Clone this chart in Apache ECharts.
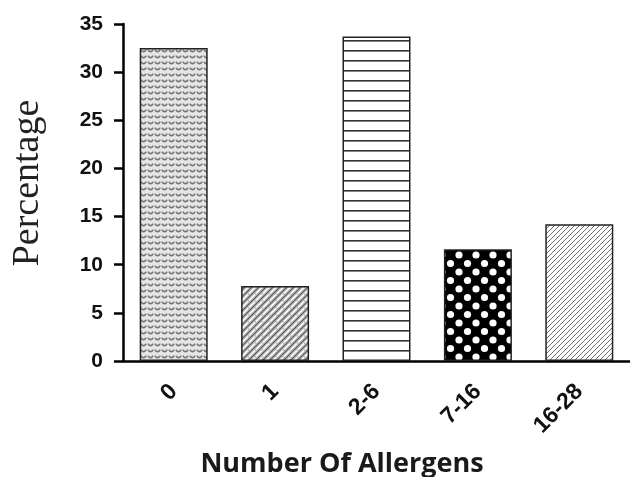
<!DOCTYPE html>
<html><head><meta charset="utf-8">
<script src="https://cdn.jsdelivr.net/npm/echarts@6/dist/echarts.min.js"></script>
<style>html,body{margin:0;padding:0;background:#fff}#c{width:630px;height:477px}</style>
</head><body><div id="c"></div>
<script>
const categories = ['0', '1', '2-6', '7-16', '16-28'];
const values = [32.5, 7.8, 33.7, 11.6, 14.2];
const yTicks = [0, 5, 10, 15, 20, 25, 30, 35];

function mk(w, h, draw) {
  const c = document.createElement('canvas'); c.width = w; c.height = h;
  const g = c.getContext('2d'); draw(g, w, h); return c;
}
const pScallop = mk(7, 6, (g, w, h) => {
  g.fillStyle = '#e6e6e6'; g.fillRect(0, 0, w, h);
  g.strokeStyle = '#767676'; g.lineWidth = 1.7;
  g.beginPath(); g.arc(3.5, 1.2, 2.4, 0.15, Math.PI - 0.15); g.stroke();
});
const pHatch = mk(7, 7, (g, w, h) => {
  g.fillStyle = '#bdbdbd'; g.fillRect(0, 0, w, h);
  g.lineCap = 'square';
  g.strokeStyle = '#555'; g.lineWidth = 1.1;
  [-7, 0, 7].forEach(ox => { g.beginPath(); g.moveTo(ox, h); g.lineTo(ox + w, 0); g.stroke(); });
  g.strokeStyle = '#fff'; g.lineWidth = 1.4;
  [-3.5, 3.5].forEach(ox => { g.beginPath(); g.moveTo(ox + 1, h - 1); g.lineTo(ox + w - 1, 1); g.stroke(); });
});
const pHoriz = mk(10, 10, (g, w, h) => {
  g.fillStyle = '#fff'; g.fillRect(0, 0, w, h);
  g.fillStyle = '#333'; g.fillRect(0, 0, w, 1.6);
});
const pDots = mk(17, 17, (g, w, h) => {
  g.fillStyle = '#000'; g.fillRect(0, 0, w, h);
  g.fillStyle = '#fff';
  [[0,0],[17,0],[0,17],[17,17],[8.5,8.5]].forEach(([x,y]) => { g.beginPath(); g.arc(x, y, 3.6, 0, Math.PI*2); g.fill(); });
});
const pDiag = mk(5, 5, (g, w, h) => {
  g.fillStyle = '#fff'; g.fillRect(0, 0, w, h);
  g.strokeStyle = '#6e6e6e'; g.lineWidth = 1;
  [-5, 0, 5].forEach(ox => { g.beginPath(); g.moveTo(ox, h); g.lineTo(ox + w, 0); g.stroke(); });
});
const patterns = [pScallop, pHatch, pHoriz, pDots, pDiag];

const chart = echarts.init(document.getElementById('c'));
chart.setOption({
  animation: false,
  grid: { left: 123, right: 0, top: 24, bottom: 116, containLabel: false },
  xAxis: {
    type: 'category', data: categories,
    axisLine: { lineStyle: { color: '#000', width: 2.5 } },
    axisTick: { alignWithLabel: true, length: 8, lineStyle: { color: '#000', width: 2.5 } },
    axisLabel: { rotate: 45, margin: 27, color: '#111', fontFamily: '"Liberation Sans"', fontWeight: 'bold', fontSize: 23 }
  },
  yAxis: {
    type: 'value', min: 0, max: 35, interval: 5,
    splitLine: { show: false },
    axisLine: { show: true, lineStyle: { color: '#000', width: 2.5 } },
    axisTick: { show: true, length: 9, lineStyle: { color: '#000', width: 2.5 } },
    axisLabel: { margin: 20, color: '#111', fontFamily: '"Liberation Sans"', fontWeight: 'bold', fontSize: 21,
      formatter: v => yTicks.includes(v) ? String(v) : '' }
  },
  graphic: [
    { type: 'text', x: 28, y: 183, rotation: Math.PI / 2,
      style: { text: 'Percentage', font: '38px "Liberation Serif"', fill: '#222', textAlign: 'center', textVerticalAlign: 'middle' } },
    { type: 'text', x: 342, y: 464,
      style: { text: 'Number Of Allergens', font: 'bold 27px "Open Sans"', fill: '#1a1a1a', textAlign: 'center', textVerticalAlign: 'middle' } }
  ],
  series: [{
    type: 'bar', barWidth: 68,
    data: values.map((v, i) => ({ value: v, itemStyle: { color: { image: patterns[i], repeat: 'repeat' } } })),
    itemStyle: { borderColor: '#222', borderWidth: 1.5 }
  }]
});
</script></body></html>
